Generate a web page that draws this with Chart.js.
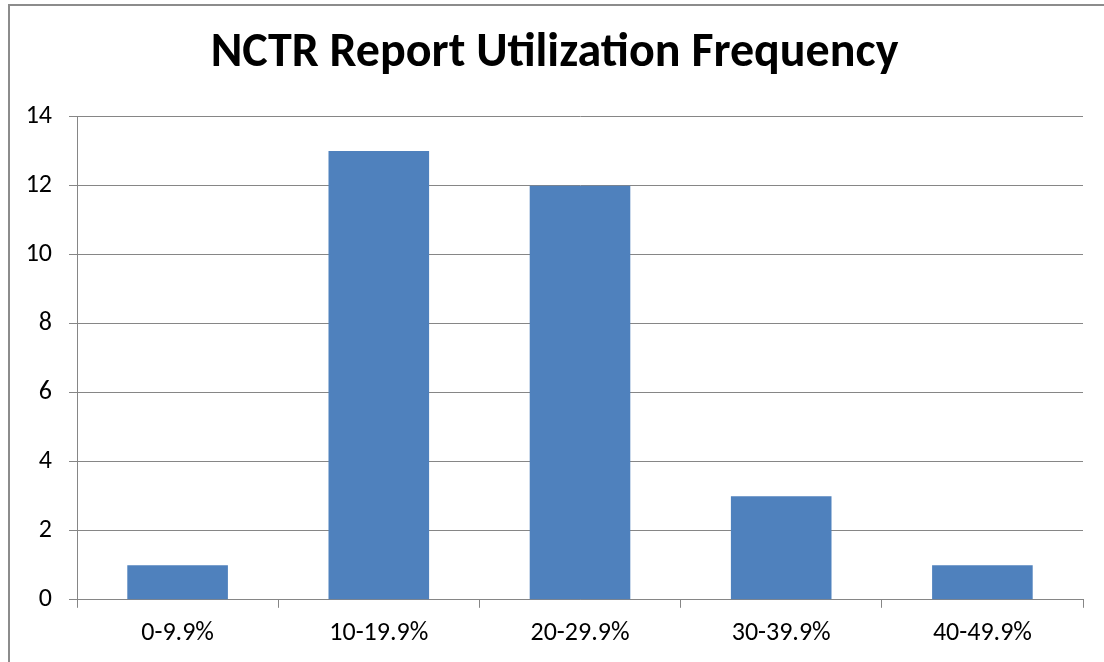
<!DOCTYPE html>
<html>
<head>
<meta charset="utf-8">
<title>NCTR Report Utilization Frequency</title>
<script src="https://cdn.jsdelivr.net/npm/chart.js@4/dist/chart.umd.min.js"></script>
<style>
    html, body { margin: 0; padding: 0; background: #fff; }
    #wrap { position: relative; width: 1104px; height: 662px; }
</style>
</head>
<body>
<div id="wrap"><canvas id="chart"></canvas></div>
<script>
// Datos del gráfico
const categories = ["0-9.9%", "10-19.9%", "20-29.9%", "30-39.9%", "40-49.9%"];
const frequency = [1, 13, 12, 3, 1];
const yMin = 0;
const yMax = 14;
const yStep = 2;

const fontFamily = "Carlito, Lato, 'Open Sans', sans-serif";
const gridColor = "#868686";

// Marco del gráfico (solo se ven los bordes izquierdo y superior)
const framePlugin = {
    id: "frame",
    beforeDraw(chart) {
        const ctx = chart.ctx;
        ctx.save();
        ctx.fillStyle = "#fff";
        ctx.fillRect(0, 0, chart.width, chart.height);
        ctx.strokeStyle = "#8c8c8c";
        ctx.lineWidth = 2;
        ctx.strokeRect(9, 5, chart.width + 20, chart.height + 20);
        ctx.restore();
    }
};

const ctx = document.getElementById("chart").getContext("2d");
new Chart(ctx, {
    type: "bar",
    data: {
        labels: categories,
        datasets: [{
            data: frequency,
            backgroundColor: "#4F81BD",
            borderWidth: 0,
            categoryPercentage: 1,
            barPercentage: 0.5,
        }],
    },
    options: {
        responsive: true,
        maintainAspectRatio: false,
        animation: false,
        layout: {
            padding: { top: 25, left: 26, right: 21, bottom: 3 },
        },
        plugins: {
            legend: { display: false },
            tooltip: { enabled: false },
            title: {
                display: true,
                text: "NCTR Report Utilization Frequency",
                color: "#000",
                font: { family: fontFamily, size: 48, weight: "bold" },
                padding: { top: 0, bottom: 34 },
            },
        },
        scales: {
            x: {
                grid: {
                    display: true,
                    drawOnChartArea: false,
                    drawTicks: true,
                    tickLength: 8,
                    color: gridColor,
                },
                border: { color: gridColor },
                ticks: {
                    color: "#000",
                    padding: 10,
                    font: { family: fontFamily, size: 26 },
                },
            },
            y: {
                min: yMin,
                max: yMax,
                grid: {
                    color: gridColor,
                    tickLength: 8,
                },
                border: { color: gridColor },
                ticks: {
                    stepSize: yStep,
                    color: "#000",
                    padding: 17,
                    font: { family: fontFamily, size: 26 },
                },
                afterFit(scale) {
                    scale.width = 51;
                },
            },
        },
    },
    plugins: [framePlugin],
});
</script>
</body>
</html>
